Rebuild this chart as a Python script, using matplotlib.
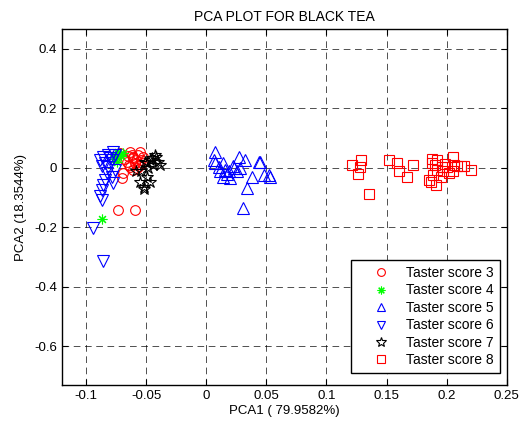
import matplotlib
matplotlib.use("Agg")
import matplotlib.pyplot as plt

plt.rcParams['font.family'] = ['Liberation Sans', 'DejaVu Sans']

# Taster score 3 (red circles)
s3_x = [-0.0717, -0.0633, -0.055, -0.0523, -0.0606, -0.066, -0.0633, -0.059, -0.0536,
        -0.069, -0.070, -0.073, -0.059, -0.0578, -0.0606, -0.065, -0.062, -0.057,
        -0.068, -0.058, -0.054, -0.064, -0.056, -0.061]
s3_y = [0.049, 0.055, 0.055, 0.038, 0.032, 0.021, 0.004, 0.016, 0.016,
        -0.018, -0.034, -0.140, -0.140, -0.001, -0.007, 0.040, 0.045, 0.045,
        0.030, 0.025, 0.028, 0.010, 0.007, 0.036]
# Taster score 4 (green asterisks)
s4_x = [-0.0869, -0.0755, -0.073, -0.071, -0.077, -0.069, -0.074]
s4_y = [-0.172, 0.045, 0.055, 0.040, 0.030, 0.050, 0.020]
# Taster score 5 (blue up triangles)
s5_x = [0.0075, 0.0061, 0.0075, 0.0103, 0.0144, 0.0158, 0.0144, 0.0186, 0.020, 0.0228,
        0.0256, 0.027, 0.0325, 0.0283, 0.0117, 0.038, 0.034, 0.031, 0.045, 0.0436,
        0.0478, 0.0533, 0.052, 0.017, 0.022]
s5_y = [0.055, 0.027, 0.016, 0.004, 0.016, -0.007, -0.029, -0.012, -0.034, -0.001,
        -0.012, 0.038, 0.027, -0.001, -0.012, -0.029, -0.068, -0.135, 0.021, 0.021,
        -0.023, -0.029, -0.023, -0.020, 0.005]
# Taster score 6 (blue down triangles)
s6_x = [-0.0883, -0.0856, -0.0814, -0.0773, -0.0786, -0.0842, -0.0814, -0.0828, -0.0842,
        -0.0856, -0.0869, -0.0883, -0.0869, -0.0773, -0.0786, -0.0758, -0.0939, -0.0856,
        -0.0800, -0.0870, -0.0760]
s6_y = [0.027, 0.038, 0.043, 0.055, 0.027, 0.016, 0.004, -0.018, -0.040,
        -0.057, -0.074, -0.096, -0.107, -0.051, -0.029, -0.007, -0.202, -0.313,
        0.033, 0.005, 0.045]
# Taster score 7 (black pentagrams)
s7_x = [-0.0425, -0.045, -0.040, -0.049, -0.044, -0.048, -0.054, -0.055, -0.052, -0.047,
        -0.049, -0.058, -0.0467, -0.0417, -0.051, -0.038, -0.0517]
s7_y = [0.043, 0.032, 0.021, 0.016, 0.010, -0.001, -0.012, -0.046, -0.063, -0.046,
        -0.029, -0.012, 0.027, 0.037, 0.020, 0.010, -0.070]
# Taster score 8 (red squares)
s8_x = [0.1214, 0.129, 0.128, 0.126, 0.135, 0.152, 0.159, 0.160, 0.167, 0.172,
        0.1875, 0.192, 0.190, 0.192, 0.189, 0.187, 0.191, 0.195, 0.197, 0.2006,
        0.2056, 0.206, 0.205, 0.209, 0.2144, 0.220, 0.212, 0.202, 0.196, 0.188,
        0.199, 0.185]
s8_y = [0.010, 0.027, 0.004, -0.020, -0.087, 0.025, 0.018, -0.009, -0.029, 0.010,
        0.030, 0.027, 0.010, -0.007, -0.023, -0.046, -0.057, -0.029, -0.012, 0.004,
        0.036, 0.010, -0.012, 0.007, 0.007, -0.007, 0.007, -0.018, 0.002, 0.018,
        0.012, -0.040]

labels = ['Taster score 3', 'Taster score 4', 'Taster score 5',
          'Taster score 6', 'Taster score 7', 'Taster score 8']

xticks = [-0.1, -0.05, 0, 0.05, 0.1, 0.15, 0.2, 0.25]
xticklabels = ['-0.1', '-0.05', '0', '0.05', '0.1', '0.15', '0.2', '0.25']
yticks = [-0.6, -0.4, -0.2, 0, 0.2, 0.4]
yticklabels = ['-0.6', '-0.4', '-0.2', '0', '0.2', '0.4']

fig = plt.figure(figsize=(5.29, 4.21), dpi=100)
ax = fig.add_axes([0.117, 0.0855, 0.841, 0.8455])

lw = 0.8
ax.plot(s3_x, s3_y, 'o', mfc='none', mec='red', ms=7, mew=lw, ls='none', label=labels[0])
ax.plot(s4_x, s4_y, marker=(8, 2, 0), color='#00ff00', mec='#00ff00', ms=7, mew=lw, ls='none', label=labels[1])
ax.plot(s5_x, s5_y, '^', mfc='none', mec='blue', ms=8, mew=lw, ls='none', label=labels[2])
ax.plot(s6_x, s6_y, 'v', mfc='none', mec='blue', ms=8, mew=lw, ls='none', label=labels[3])
ax.plot(s7_x, s7_y, '*', mfc='none', mec='black', ms=9, mew=lw, ls='none', label=labels[4])
ax.plot(s8_x, s8_y, 's', mfc='none', mec='red', ms=7, mew=lw, ls='none', label=labels[5])

ax.set_xlim(-0.12, 0.25)
ax.set_ylim(-0.73, 0.467)
ax.set_xticks(xticks)
ax.set_xticklabels(xticklabels)
ax.set_yticks(yticks)
ax.set_yticklabels(yticklabels)
ax.tick_params(direction='in', top=True, right=True, labelsize=9.5, length=4, width=0.8)
ax.grid(True, color='black', linestyle=(0, (8, 5.5)), linewidth=0.6, alpha=0.8)
ax.set_axisbelow(True)
for sp in ax.spines.values():
    sp.set_linewidth(1.0)

ax.set_title('PCA PLOT FOR BLACK TEA', fontsize=10, pad=6)
ax.set_xlabel('PCA1 ( 79.9582%)', fontsize=9.5, labelpad=2)
ax.set_ylabel('PCA2 (18.3544%)', fontsize=9.5, labelpad=5)

leg = ax.legend(loc='lower right', fontsize=10, frameon=True, fancybox=False,
                edgecolor='black', framealpha=1, borderpad=0.4, labelspacing=0.25,
                handlelength=3.5, handletextpad=0.1, markerscale=0.8,
                borderaxespad=0, bbox_to_anchor=(0.984, 0.034))
leg.get_frame().set_linewidth(1.0)

fig.savefig('out.png', dpi=100)
